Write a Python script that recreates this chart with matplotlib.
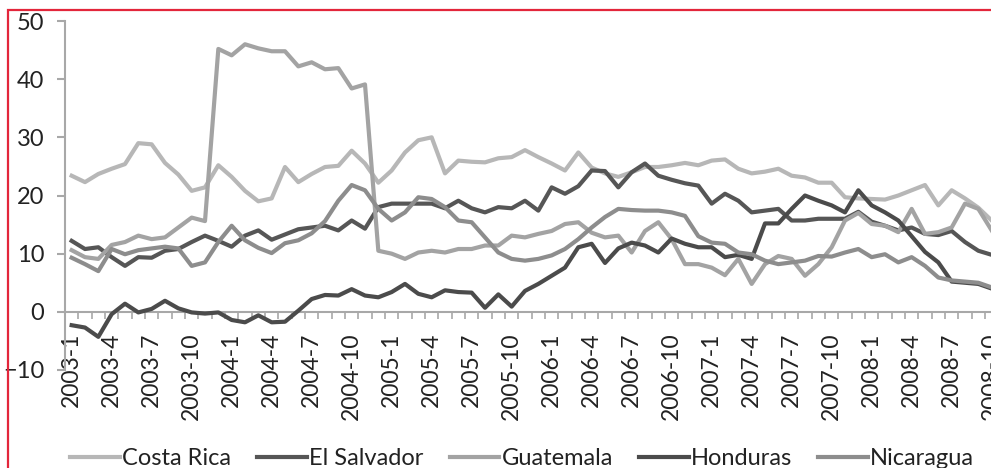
import matplotlib
matplotlib.use("Agg")
import matplotlib.pyplot as plt
from matplotlib.lines import Line2D
from matplotlib.patches import Rectangle
import numpy as np

plt.rcParams['font.family'] = ['Lato', 'DejaVu Sans']

# monthly categories 2003-1 .. 2008-10
months = [f"{y}-{m}" for y in range(2003, 2009) for m in range(1, 13)][:70]
tick_labels = months[::3]

costa_rica = [23.4, 22.3, 23.7, 24.6, 25.4, 29.0, 28.8, 25.6, 23.6, 20.8,
              21.4, 25.2, 23.2, 20.8, 19.0, 19.5, 24.9, 22.3, 23.7, 24.9,
              25.1, 27.7, 25.5, 22.2, 24.3, 27.4, 29.5, 30.0, 23.8, 26.0,
              25.8, 25.7, 26.4, 26.6, 27.8, 26.6, 25.5, 24.3, 27.4, 24.8,
              23.8, 23.2, 24.0, 24.9, 24.9, 25.2, 25.6, 25.2, 26.0, 26.2,
              24.6, 23.8, 24.1, 24.6, 23.4, 23.1, 22.2, 22.2, 19.7, 19.5,
              19.4, 19.3, 20.0, 20.9, 21.8, 18.3, 20.9, 19.5, 17.9, 15.7]

el_salvador = [12.2, 10.8, 11.1, 9.4, 7.9, 9.4, 9.3, 10.5, 10.8, 12.0,
               13.1, 12.2, 11.2, 13.1, 14.0, 12.4, 13.3, 14.2, 14.5, 14.8,
               14.0, 15.7, 14.3, 18.0, 18.6, 18.6, 18.6, 18.6, 17.8, 19.1,
               17.8, 17.1, 18.0, 17.8, 19.1, 17.4, 21.4, 20.3, 21.6, 24.3,
               24.2, 21.4, 24.0, 25.5, 23.4, 22.7, 22.1, 21.7, 18.6, 20.3,
               19.1, 17.1, 17.4, 17.7, 15.7, 15.7, 16.0, 16.0, 16.0, 17.2,
               15.5, 14.8, 14.0, 14.5, 13.4, 13.2, 13.9, 12.0, 10.5, 9.8]

guatemala = [10.6, 9.4, 9.1, 11.5, 12.0, 13.1, 12.5, 12.8, 14.5, 16.2,
             15.6, 45.2, 44.1, 46.0, 45.3, 44.8, 44.8, 42.2, 42.9, 41.7,
             41.9, 38.4, 39.1, 10.5, 10.0, 9.1, 10.2, 10.5, 10.2, 10.8,
             10.8, 11.4, 11.4, 13.1, 12.8, 13.4, 13.9, 15.1, 15.4, 13.6,
             12.8, 13.1, 10.2, 13.9, 15.4, 12.5, 8.2, 8.2, 7.6, 6.3,
             9.1, 4.8, 8.2, 9.6, 9.1, 6.2, 8.2, 11.1, 15.7, 17.0,
             15.1, 14.8, 13.7, 17.7, 13.4, 13.7, 14.5, 18.6, 17.7, 14.0]

honduras = [-2.3, -2.7, -4.3, -0.4, 1.4, -0.1, 0.5, 1.9, 0.6, -0.1,
            -0.3, -0.1, -1.4, -1.8, -0.6, -1.8, -1.7, 0.2, 2.2, 2.9,
            2.8, 3.9, 2.8, 2.5, 3.4, 4.8, 3.1, 2.5, 3.7, 3.4,
            3.3, 0.7, 3.0, 0.9, 3.6, 4.8, 6.2, 7.6, 11.1, 11.7,
            8.4, 10.9, 11.9, 11.4, 10.2, 12.6, 11.7, 11.1, 11.1, 9.4,
            9.8, 9.1, 15.2, 15.2, 17.7, 20.0, 19.1, 18.3, 17.1, 20.9,
            18.3, 17.1, 15.7, 13.0, 10.3, 8.5, 5.2, 5.0, 4.8, 4.0]

nicaragua = [9.3, 8.2, 7.0, 10.8, 9.9, 10.6, 10.9, 11.2, 10.9, 7.9,
             8.5, 12.0, 14.8, 12.3, 11.0, 10.1, 11.8, 12.3, 13.5, 15.6,
             19.1, 21.8, 20.9, 17.7, 15.7, 17.1, 19.7, 19.4, 18.0, 15.7,
             15.4, 12.8, 10.2, 9.1, 8.8, 9.1, 9.7, 10.8, 12.5, 14.5,
             16.3, 17.7, 17.5, 17.4, 17.4, 17.1, 16.5, 13.0, 11.9, 11.7,
             10.2, 9.9, 8.8, 8.2, 8.5, 8.8, 9.6, 9.5, 10.2, 10.8,
             9.4, 9.9, 8.5, 9.4, 7.9, 5.9, 5.4, 5.2, 5.0, 4.2]

series_names = ["Costa Rica", "El Salvador", "Guatemala", "Honduras", "Nicaragua"]
series_values = [costa_rica, el_salvador, guatemala, honduras, nicaragua]
series_colors = ["#b7b7b7", "#565656", "#a3a3a3", "#4b4b4b", "#8d8d8d"]

fig = plt.figure(figsize=(9.91, 4.68), dpi=100)
ax = fig.add_axes([65 / 991, 98 / 468, 960 / 991, 349 / 468])

x = np.arange(len(months))
for vals, col in zip(series_values, series_colors):
    ax.plot(x, vals, color=col, lw=3.0, solid_joinstyle='round', zorder=3)

ax.set_xlim(-0.5, 71.5)
ax.set_ylim(-10, 50)
for s in ['top', 'right']:
    ax.spines[s].set_visible(False)
ax.spines['bottom'].set_position(('data', 0))
axis_col = '#a8a8a8'
ax.spines['bottom'].set_color(axis_col)
ax.spines['left'].set_color(axis_col)
ax.spines['bottom'].set_linewidth(1.5)
ax.spines['left'].set_linewidth(1.5)

ax.set_yticks(range(-10, 51, 10))
ax.tick_params(axis='y', length=6, width=1.5, color=axis_col, pad=9,
               labelsize=17, labelcolor='#222222')

ax.set_xticks(x[::3])
ax.set_xticklabels(tick_labels, rotation=90, va='top', ha='center')
ax.set_xticks(np.arange(-0.5, 72, 1), minor=True)
ax.tick_params(axis='x', which='major', length=0, pad=15, labelsize=16.5,
               labelcolor='#222222')
ax.tick_params(axis='x', which='minor', length=5, width=1.2, color=axis_col)
ax.patch.set_alpha(0)

handles = [Line2D([], [], color=c, lw=3.0) for c in series_colors]
fig.legend(handles, series_names, loc='center', bbox_to_anchor=(0.527, 0.02),
           ncol=5, frameon=False, handlelength=2.1, handletextpad=0.1,
           columnspacing=1.1, fontsize=17, labelcolor='#222222')

fig.patches.append(Rectangle((8 / 991, -0.2), 1.5, 1.2 - 10 / 468,
                             transform=fig.transFigure, fill=False,
                             edgecolor='#e3263b', lw=1.6))

fig.savefig("out.png", dpi=100)
